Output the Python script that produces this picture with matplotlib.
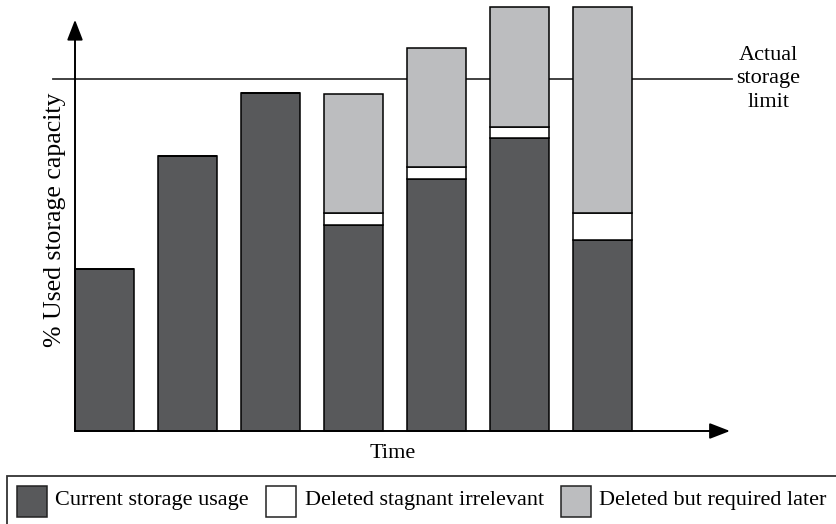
import matplotlib
matplotlib.use('Agg')

import matplotlib.pyplot as plt
from matplotlib.patches import Rectangle

# values in % of the actual storage limit (limit = 100)
periods = [1, 2, 3, 4, 5, 6, 7]
current = [46, 78, 96, 58.5, 71.6, 83.2, 54.3]
stagnant = [0, 0, 0, 3.4, 3.4, 3.1, 7.7]
required_later = [0, 0, 0, 33.8, 33.8, 34.0, 58.4]
storage_limit = 100

labels = ['Current storage usage', 'Deleted stagnant irrelevant',
          'Deleted but required later']
colors = ['#58595b', '#ffffff', '#bcbdbf']

plt.rcParams['font.family'] = 'Liberation Serif'
FS = 16

W, H = 836, 524
fig = plt.figure(figsize=(W / 100, H / 100), dpi=100)
ax = fig.add_axes([75 / W, 1 - 431 / H, (730 - 75) / W, 431 / H])

x = [p - 1 for p in periods]
width = 0.71
bottom2 = [c + s for c, s in zip(current, stagnant)]
ax.bar(x, current, width, color=colors[0], edgecolor='black', lw=1.1,
       zorder=3, clip_on=False)
ax.bar(x, stagnant, width, bottom=current, color=colors[1],
       edgecolor='black', lw=1.1, zorder=3, clip_on=False)
ax.bar(x, required_later, width, bottom=bottom2, color=colors[2],
       edgecolor='black', lw=1.1, zorder=3, clip_on=False)

x0 = -width / 2
ax.set_xlim(x0, 7.536)
ax.set_ylim(0, 122.4)
ax.axis('off')

# storage limit line
ax.plot([-0.62, 7.56], [storage_limit, storage_limit], color='#333333',
        lw=1.3, zorder=1, clip_on=False)
ax.text(8.0, storage_limit, 'Actual\nstorage\nlimit', ha='center',
        va='center', fontsize=FS, linespacing=1.3)

# axes arrows
arrow = dict(arrowstyle='-|>,head_length=0.62,head_width=0.24',
             mutation_scale=20, lw=1.4, color='black',
             shrinkA=0, shrinkB=0)
ax.annotate('', xy=(x0, 116.8), xytext=(x0, 0), arrowprops=arrow,
            annotation_clip=False)
ax.annotate('', xy=(7.536, 0), xytext=(x0, 0), arrowprops=arrow,
            annotation_clip=False)

fig.text(55 / W, 1 - 220 / H, '% Used storage capacity', rotation=90,
         ha='center', va='center', fontsize=18.5)
fig.text(393 / W, 1 - 453 / H, 'Time', ha='center', va='center',
         fontsize=FS)

# legend box (runs off the bottom/right edge like the original)
fig.patches.append(Rectangle((7 / W, -0.05), 0.995, 1 - 476 / H + 0.05,
                             transform=fig.transFigure, fill=False,
                             edgecolor='#333333', lw=1.3))
sw = [17, 266, 561]
tx = [55, 305, 599]
for i in range(3):
    fig.patches.append(Rectangle((sw[i] / W, 1 - 517 / H), 30 / W, 31 / H,
                                 transform=fig.transFigure,
                                 facecolor=colors[i], edgecolor='#222222',
                                 lw=1.1))
    fig.text(tx[i] / W, 1 - 501 / H, labels[i], ha='left', va='center',
             fontsize=FS)

fig.savefig('out.png', dpi=100)
